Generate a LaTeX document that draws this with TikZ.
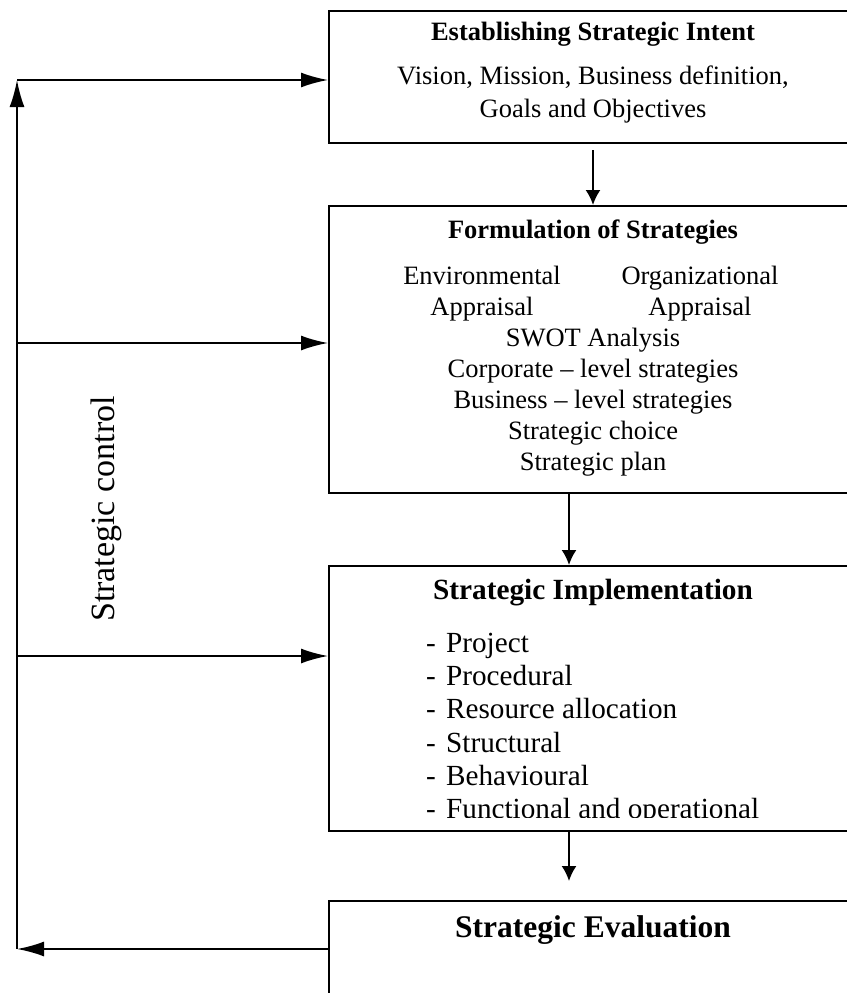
\documentclass[tikz,border=0pt]{standalone}
\usepackage{fontspec}
\setmainfont{Liberation Serif}
\usepackage{tikz}
\usetikzlibrary{arrows.meta}
\tikzstyle{stagebox} = [rectangle, draw=black, line width=1.9pt, minimum width=620, anchor=north west, inner sep=0pt]
\tikzstyle{body} = [align=center, inner sep=0pt, font=\fontsize{26.5}{31}\selectfont]
\tikzstyle{head} = [inner sep=0pt, font=\fontsize{26.5}{31}\selectfont\bfseries]
\tikzstyle{arrow} = [line width=1.9pt, -{Latex[length=15pt,width=15pt]}]
\tikzstyle{loop} = [line width=1.9pt, -{Latex[length=27pt,width=15pt]}]

\begin{document}
\begin{tikzpicture}[x=1pt, y=-1pt]
\useasboundingbox (0,0) rectangle (846,993);

\node (1) [stagebox, minimum height=132] at (328,10) {};
\node (2) [stagebox, minimum height=287] at (328,205) {};
\node (3) [stagebox, minimum height=265] at (328,565) {};
\node (4) [stagebox, minimum height=150] at (328,900) {};

\node (1h) [head] at (593,34) {Establishing Strategic Intent};
\node (1b) [body, font=\fontsize{26.5}{33}\selectfont] at (593,94) {Vision, Mission, Business definition,\\Goals and Objectives};

\node (2h) [head] at (593,232) {Formulation of Strategies};
\node (2a) [body] at (482,294) {Environmental\\Appraisal};
\node (2b) [body] at (700,294) {Organizational\\Appraisal};
\node (2c) [body] at (593,402) {SWOT Analysis\\Corporate -- level strategies\\Business -- level strategies\\Strategic choice\\Strategic plan};

\node (3h) [head, font=\fontsize{29.3}{33}\selectfont\bfseries] at (593,593) {Strategic Implementation};
\begin{scope}
\clip (328,565) rectangle (846,817);
\node (3b) [body, align=left, anchor=west, font=\fontsize{29.2}{33.2}\selectfont] at (426,729) {\makebox[20pt][l]{-}Project\\\makebox[20pt][l]{-}Procedural\\\makebox[20pt][l]{-}Resource allocation\\\makebox[20pt][l]{-}Structural\\\makebox[20pt][l]{-}Behavioural\\\makebox[20pt][l]{-}Functional and operational};
\end{scope}

\node (4h) [head, font=\fontsize{31.5}{35}\selectfont\bfseries] at (593,930) {Strategic Evaluation};

\node (sc) [body, rotate=90, font=\fontsize{34}{40}\selectfont] at (106,509) {Strategic control};

\coordinate (mid1) at (593,150);
\coordinate (mid2) at (569,0);
\coordinate (foot) at (17,949);
\coordinate (top) at (17,80);
\coordinate (tap2) at (17,343);
\coordinate (tap3) at (17,656);

\draw [arrow] (mid1) -- (2.north -| mid1);
\draw [arrow] (2.south -| mid2) -- (3.north -| mid2);
\draw [arrow] (3.south -| mid2) -- ([yshift=19pt]4.north -| mid2);

\draw [loop] (4.west |- foot) -- (foot);
\draw [loop] (foot) -- (top);
\draw [loop] (top) -- (1.west |- top);
\draw [loop] (tap2) -- (2.west |- tap2);
\draw [loop] (tap3) -- (3.west |- tap3);

\end{tikzpicture}
\end{document}
